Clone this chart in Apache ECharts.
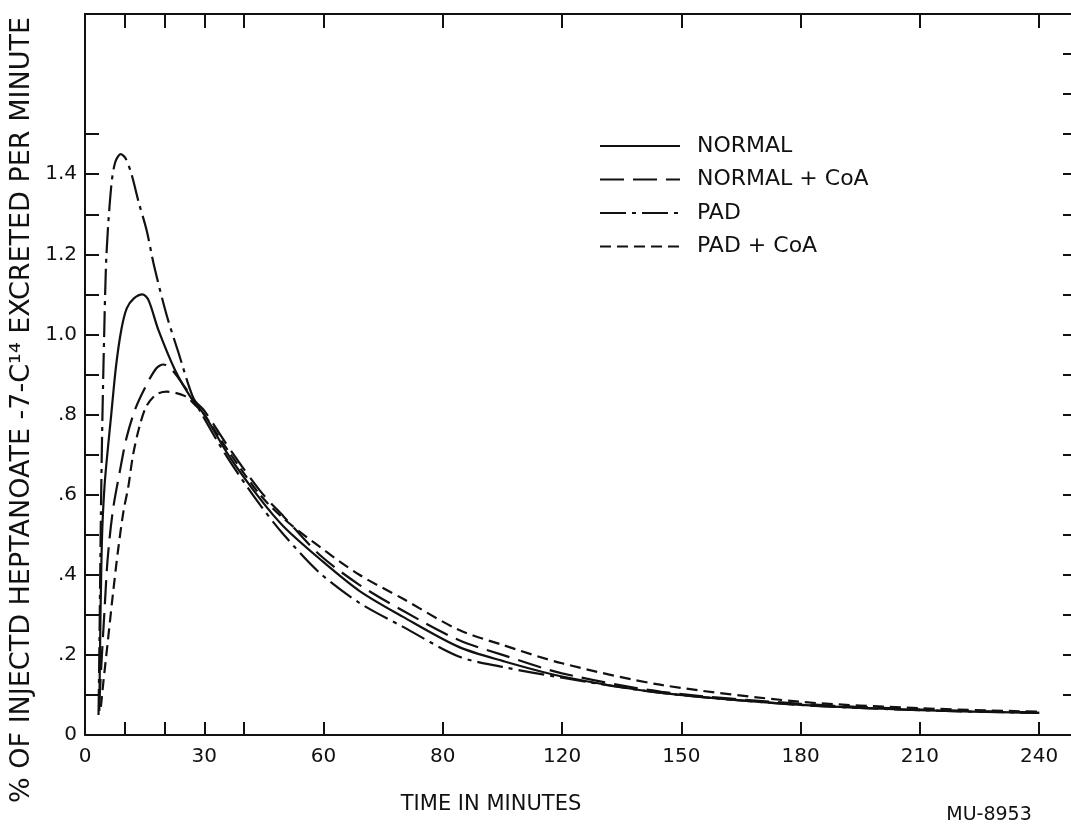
<!DOCTYPE html>
<html>
<head>
<meta charset="utf-8">
<script src="https://cdn.jsdelivr.net/npm/echarts@6/dist/echarts.min.js"></script>
<style>
html,body{margin:0;padding:0;background:#fff;}
#c{width:1071px;height:827px;}
</style>
</head>
<body>
<div id="c"></div>
<script>
// ---- data ----
const seriesNames = ['NORMAL', 'NORMAL + CoA', 'PAD', 'PAD + CoA'];

const normalT = [3.6, 3.9, 4.3, 4.9, 5.6, 6.6, 7.8, 9.1, 10.5, 12.3, 14.5, 16.0, 18.5, 22.7, 26.8, 30, 36, 44, 50, 59, 69, 80, 94, 105, 120, 145, 180, 210, 240];
const normalV = [0.06, 0.30, 0.50, 0.62, 0.70, 0.80, 0.92, 1.01, 1.065, 1.09, 1.10, 1.085, 1.01, 0.91, 0.84, 0.80, 0.70, 0.59, 0.52, 0.44, 0.36, 0.295, 0.22, 0.185, 0.146, 0.105, 0.075, 0.062, 0.055];

const normalCoaT = [3.6, 4.2, 4.9, 5.7, 7.0, 8.7, 10.4, 12.5, 15.0, 17.9, 19.7, 22, 25, 28, 30, 36, 44, 50, 59, 69, 80, 94, 105, 120, 145, 180, 210, 240];
const normalCoaV = [0.08, 0.19, 0.31, 0.44, 0.56, 0.655, 0.74, 0.81, 0.865, 0.915, 0.925, 0.91, 0.87, 0.83, 0.81, 0.72, 0.61, 0.545, 0.45, 0.375, 0.31, 0.237, 0.20, 0.154, 0.108, 0.078, 0.064, 0.056];

const padT = [3.4, 3.6, 3.8, 4.0, 4.3, 4.8, 5.4, 6.6, 7.6, 9.0, 10.2, 11.7, 13.5, 15.5, 17.4, 20.6, 23.5, 26.9, 30, 36, 44, 50, 59, 69, 80, 94, 105, 120, 145, 180, 210, 240];
const padV = [0.05, 0.20, 0.38, 0.55, 0.75, 0.99, 1.20, 1.37, 1.43, 1.45, 1.44, 1.40, 1.33, 1.26, 1.17, 1.046, 0.955, 0.85, 0.79, 0.69, 0.575, 0.50, 0.405, 0.33, 0.27, 0.196, 0.17, 0.143, 0.105, 0.075, 0.062, 0.055];

const padCoaT = [4.0, 4.6, 5.7, 7.0, 8.3, 9.7, 10.9, 12.1, 13.7, 15.4, 17.9, 20.6, 25.2, 28.1, 30, 36, 44, 50, 59, 69, 80, 94, 105, 120, 145, 180, 210, 240];
const padCoaV = [0.07, 0.13, 0.23, 0.35, 0.46, 0.56, 0.62, 0.70, 0.77, 0.82, 0.85, 0.857, 0.846, 0.82, 0.80, 0.71, 0.60, 0.54, 0.47, 0.40, 0.34, 0.2625, 0.225, 0.179, 0.125, 0.083, 0.067, 0.058];

// tick labels (original drawing labels 90 as "80")
const xLabelValues = [0, 30, 60, 90, 120, 150, 180, 210, 240];
const xLabelTexts  = ['0', '30', '60', '80', '120', '150', '180', '210', '240'];
const xTickValues  = [10, 20, 30, 40, 60, 90, 120, 150, 180, 210, 240];
const yLabelValues = [0, 0.2, 0.4, 0.6, 0.8, 1.0, 1.2, 1.4];
const yLabelTexts  = ['0', '.2', '.4', '.6', '.8', '1.0', '1.2', '1.4'];
const yTickValuesLeft  = [0.1, 0.2, 0.3, 0.4, 0.5, 0.6, 0.7, 0.8, 0.9, 1.0, 1.1, 1.2, 1.3, 1.4, 1.5];
const yTickValuesRight = [0.1, 0.2, 0.3, 0.4, 0.5, 0.6, 0.7, 0.8, 0.9, 1.0, 1.1, 1.2, 1.3, 1.4, 1.5, 1.6, 1.7];

const xTitle = 'TIME IN MINUTES';
const yTitle = '% OF INJECTD HEPTANOATE -7-C¹⁴ EXCRETED PER MINUTE';
const note = 'MU-8953';

// ---- chart ----
const FONT = 'DejaVu Sans';
const INK = '#111';
const pairs = (t, v) => t.map((x, i) => [x, v[i]]);
const lineDefs = [
  { name: seriesNames[0], data: pairs(normalT, normalV), type: 'solid' },
  { name: seriesNames[1], data: pairs(normalCoaT, normalCoaV), type: [24, 9] },
  { name: seriesNames[2], data: pairs(padT, padV), type: [26, 6, 4, 6] },
  { name: seriesNames[3], data: pairs(padCoaT, padCoaV), type: [11, 6] }
];

const chart = echarts.init(document.getElementById('c'), null, { renderer: 'canvas' });
chart.setOption({
  backgroundColor: '#fff',
  animation: false,
  textStyle: { fontFamily: FONT, color: INK },
  grid: { left: 85, right: 0, top: 14, bottom: 92, containLabel: false, outerBoundsMode: 'none' },
  legend: {
    orient: 'vertical',
    left: 594,
    top: 130,
    itemWidth: 80,
    itemHeight: 14,
    itemGap: 11.5,
    itemStyle: { opacity: 0, borderWidth: 0 },
    textStyle: { fontFamily: FONT, fontSize: 22, color: INK, padding: [0, 0, 0, 12] },
    data: seriesNames
  },
  xAxis: [
    {
      type: 'value', position: 'bottom', min: 0, max: 248,
      axisLine: { show: true, onZero: false, lineStyle: { color: INK, width: 2 } },
      axisTick: { show: true, inside: true, length: 13, customValues: xTickValues, lineStyle: { color: INK, width: 2 } },
      axisLabel: {
        show: true, margin: 12, fontSize: 20, color: INK, fontFamily: FONT,
        customValues: xLabelValues,
        formatter: (v) => { const i = xLabelValues.indexOf(v); return i >= 0 ? xLabelTexts[i] : ''; }
      },
      splitLine: { show: false }
    },
    {
      type: 'value', position: 'top', min: 0, max: 248,
      axisLine: { show: true, onZero: false, lineStyle: { color: INK, width: 2 } },
      axisTick: { show: true, inside: true, length: 14, customValues: xTickValues, lineStyle: { color: INK, width: 2 } },
      axisLabel: { show: false },
      splitLine: { show: false }
    }
  ],
  yAxis: [
    {
      type: 'value', position: 'left', min: 0, max: 1.8,
      axisLine: { show: true, onZero: false, lineStyle: { color: INK, width: 2 } },
      axisTick: { show: true, inside: true, length: 14, customValues: yTickValuesLeft, lineStyle: { color: INK, width: 2 } },
      axisLabel: {
        show: true, margin: 8, fontSize: 20, color: INK, fontFamily: FONT,
        customValues: yLabelValues,
        formatter: (v) => { const i = yLabelValues.findIndex(u => Math.abs(u - v) < 1e-6); return i >= 0 ? yLabelTexts[i] : ''; }
      },
      splitLine: { show: false }
    },
    {
      type: 'value', position: 'right', min: 0, max: 1.8,
      axisLine: { show: false, onZero: false },
      axisTick: { show: true, inside: true, length: 8, customValues: yTickValuesRight, lineStyle: { color: INK, width: 2 } },
      axisLabel: { show: false },
      splitLine: { show: false }
    }
  ],
  series: lineDefs.map(d => ({
    name: d.name,
    type: 'line',
    xAxisIndex: 0,
    yAxisIndex: 0,
    data: d.data,
    smooth: 0.3,
    symbol: 'none',
    showSymbol: false,
    color: INK,
    lineStyle: { color: INK, width: 2.2, type: d.type }
  })),
  graphic: [
    {
      type: 'text', x: 491, y: 805,
      style: { text: xTitle, font: '21px "DejaVu Sans"', fill: INK, align: 'center', verticalAlign: 'middle' }
    },
    {
      type: 'text', x: 22, y: 410, rotation: Math.PI / 2,
      style: { text: yTitle, font: '27px "DejaVu Sans"', fill: INK, align: 'center', verticalAlign: 'middle' }
    },
    {
      type: 'text', x: 989, y: 815,
      style: { text: note, font: '19px "DejaVu Sans"', fill: INK, align: 'center', verticalAlign: 'middle' }
    }
  ]
});
</script>
</body>
</html>
